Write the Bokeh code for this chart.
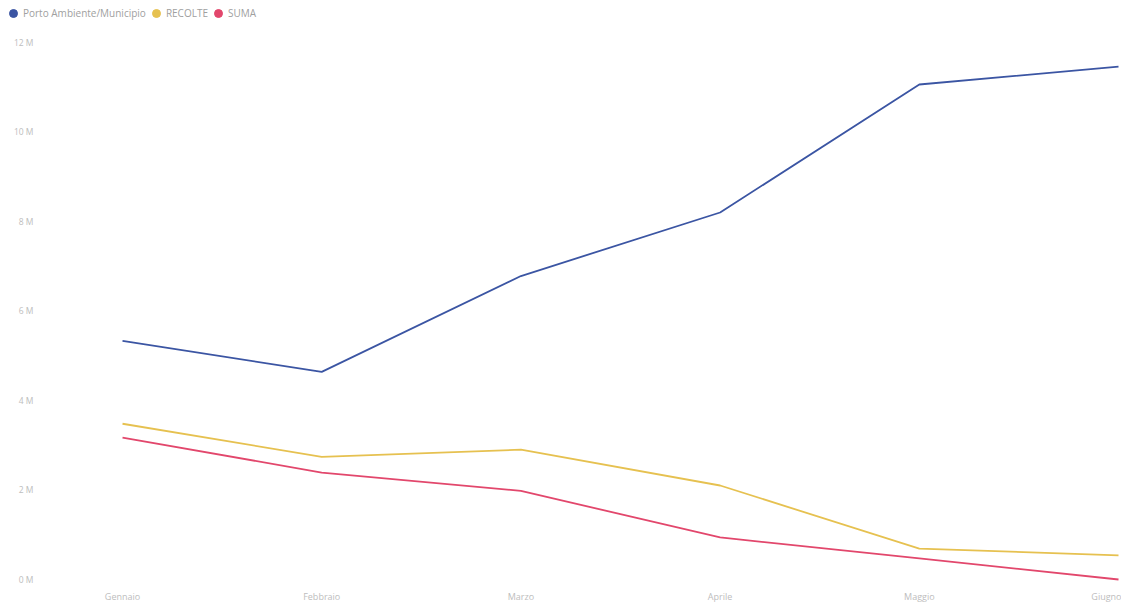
from bokeh.plotting import figure
from bokeh.models import Range1d, FixedTicker, Legend, LegendItem, ColumnDataSource
from bokeh.embed import file_html
from bokeh.resources import INLINE

categories = ["Gennaio", "Febbraio", "Marzo", "Aprile", "Maggio", "Giugno"]
porto = [5.33, 4.64, 6.78, 8.20, 11.06, 11.46]
recolte = [3.48, 2.74, 2.90, 2.10, 0.69, 0.54]
suma = [3.17, 2.39, 1.98, 0.94, 0.47, 0.00]
y_ticks = [0, 2, 4, 6, 8, 10, 12]
y_labels = ["0 M", "2 M", "4 M", "6 M", "8 M", "10 M", "12 M"]

series = [
    ("Porto Ambiente/Municipio", porto, "#3b55a3"),
    ("RECOLTE", recolte, "#e6c150"),
    ("SUMA", suma, "#e2476c"),
]

p = figure(width=1121, height=605, output_backend="svg", toolbar_location=None,
           x_range=Range1d(-0.6125, 5.015), y_range=Range1d(-0.045, 12.937),
           min_border_left=0, min_border_right=0, min_border_top=0, min_border_bottom=23)
p.outline_line_color = None
p.xgrid.visible = False
p.ygrid.visible = False

xs = list(range(len(categories)))
items = []
for name, vals, color in series:
    src = ColumnDataSource(dict(x=xs, y=vals))
    p.line("x", "y", source=src, line_color=color, line_width=1.8)
    dot = p.scatter(x=[-50], y=[-50], size=9, marker="circle", fill_color=color, line_color=color)
    items.append(LegendItem(label=name, renderers=[dot]))

legend = Legend(items=items, orientation="horizontal", location=(3, 558),
                glyph_width=20, glyph_height=20, label_standoff=-4, spacing=-1,
                padding=0, margin=0, border_line_color=None, background_fill_alpha=0,
                label_text_font="Open Sans", label_text_font_size="10px",
                label_text_color="#a0a0a0", label_height=20)
p.add_layout(legend, "center")

for ax in (p.xaxis[0], p.yaxis[0]):
    ax.axis_line_color = None
    ax.major_tick_line_color = None
    ax.minor_tick_line_color = None
    ax.major_tick_in = 0
    ax.major_tick_out = 0
    ax.major_label_text_font = "Open Sans"
    ax.major_label_text_color = "#bdbdbd"

p.xaxis.ticker = FixedTicker(ticks=xs)
p.xaxis.major_label_overrides = {i: c for i, c in zip(xs, categories)}
p.xaxis.major_label_text_font_size = "9px"
p.xaxis.major_label_standoff = 8
p.yaxis.ticker = FixedTicker(ticks=y_ticks)
p.yaxis.major_label_overrides = {t: l for t, l in zip(y_ticks, y_labels)}
p.yaxis.major_label_text_font_size = "8.5px"
p.yaxis.major_label_standoff = -33

open("out.html", "w").write(file_html(p, INLINE))
